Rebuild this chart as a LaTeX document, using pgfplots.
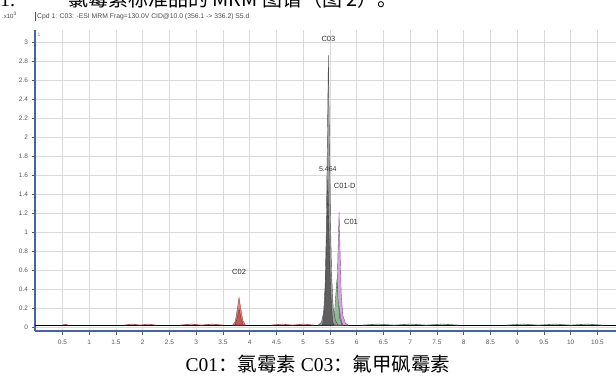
\documentclass[border=0pt]{standalone}
\usepackage{fontspec}
\setmainfont{Liberation Serif}
\setsansfont{Liberation Sans}
\newfontfamily\cjk{Noto Sans CJK SC}
\usepackage{pgfplots}
\pgfplotsset{compat=1.18}
\definecolor{axblue}{RGB}{70,100,170}
\definecolor{pkgray}{RGB}{150,150,150}
\definecolor{pkdark}{RGB}{80,80,80}
\definecolor{pkpurple}{RGB}{205,150,220}
\definecolor{pkgreen}{RGB}{140,190,140}
\definecolor{pkred}{RGB}{225,90,90}
\begin{document}
\begin{tikzpicture}[x=1pt,y=1pt]
\useasboundingbox (0,0) rectangle (616,376);
% heading line above the figure, cut off at the top edge as in the source
\node[anchor=base west, inner sep=0pt, font=\fontsize{20}{20}\selectfont] at (0,370) {1.};
\node[anchor=base west, inner sep=0pt, font=\cjk\fontsize{20}{20}\selectfont] at (68,370) {氯霉素标准品的 MRM 图谱（图 2）。};
% header
\node[anchor=base west, inner sep=0pt, font=\sffamily\fontsize{6}{6}\selectfont, text=gray!60!black] at (2,358) {.x10\textsuperscript{3}};
\draw[gray!60!black, line width=0.5pt] (35.5,355) -- (35.5,364);
\node[anchor=base west, inner sep=0pt, font=\sffamily\fontsize{6.8}{6.8}\selectfont, text=gray!60!black] at (37,358) {Cpd 1: C03: -ESI MRM Frag=130.0V CID@10.0 (356.1 -> 336.2) S5.d};
\begin{axis}[
  at={(35pt,45pt)}, anchor=south west, scale only axis,
  width=581pt, height=301pt,
  xmin=-0.014, xmax=10.846, ymin=-0.042, ymax=3.126,
  axis x line*=bottom, axis y line*=left,
  axis line style={draw=axblue, line width=1.4pt, -},
  xtick={0.5,1,1.5,2,2.5,3,3.5,4,4.5,5,5.5,6,6.5,7,7.5,8,8.5,9,9.5,10,10.5},
  ytick={0,0.2,0.4,0.6,0.8,1,1.2,1.4,1.6,1.8,2,2.2,2.4,2.6,2.8,3},
  yticklabels={0,0.2,0.4,0.6,0.8,1,1.2,1.4,1.6,1.8,2,2.2,2.4,2.6,2.8,3},
  xticklabels={0.5,1,1.5,2,2.5,3,3.5,4,4.5,5,5.5,6,6.5,7,7.5,8,8.5,9,9.5,10,10.5},
  tick align=outside, major tick length=3.5pt,
  tick style={gray!70!black, line width=0.5pt},
  tick label style={font=\sffamily\fontsize{6.5}{6.5}\selectfont, text=gray!70!black},
  xticklabel style={yshift=-2pt},
  grid=major, grid style={gray!30, line width=0.6pt},
  clip=true,
]
% baseline
\addplot[black, line width=0.7pt] coordinates {(-0.01,0.02) (10.85,0.02)};
% small baseline noise
\addplot[pkred!70!black, line width=0.6pt] coordinates {(0.5,0.02) (0.55,0.03) (0.6,0.02)};
\addplot[pkred!70!black, line width=0.6pt] coordinates {(1.65,0.02) (1.8,0.03) (1.95,0.02) (2.1,0.03) (2.25,0.02)};
\addplot[pkred!70!black, line width=0.6pt] coordinates {(2.7,0.02) (2.9,0.03) (3.1,0.02) (3.3,0.03) (3.5,0.02)};
\addplot[pkred!70!black, line width=0.6pt] coordinates {(4.4,0.02) (4.6,0.03) (4.8,0.02) (5.0,0.03) (5.2,0.02)};
\addplot[pkgreen!60!black, line width=0.6pt] coordinates {(6.1,0.02) (6.4,0.03) (6.7,0.02) (7.0,0.03) (7.3,0.02) (7.6,0.03) (7.9,0.02)};
\addplot[pkgreen!60!black, line width=0.6pt] coordinates {(8.8,0.02) (9.1,0.03) (9.4,0.02) (9.7,0.03) (10.0,0.02) (10.3,0.03) (10.6,0.02)};
% C02 red
\addplot[draw=pkred!70!black, fill=pkred, fill opacity=0.75, line width=0.4pt] coordinates {(3.68,0.02) (3.73,0.06) (3.77,0.2) (3.80,0.31) (3.83,0.2) (3.87,0.07) (3.92,0.02)} -- cycle;
\addplot[draw=pkred!50!black, fill=pkred!70!black, fill opacity=0.6, line width=0.3pt] coordinates {(3.72,0.02) (3.76,0.08) (3.80,0.19) (3.84,0.08) (3.88,0.02)} -- cycle;
% C01 purple
\addplot[draw=pkpurple!60!black, fill=pkpurple, fill opacity=0.85, line width=0.4pt] coordinates {(5.56,0.02) (5.60,0.08) (5.63,0.35) (5.65,0.8) (5.67,1.21) (5.69,0.75) (5.71,0.35) (5.74,0.12) (5.79,0.04) (5.84,0.02)} -- cycle;
\addplot[draw=pkpurple!50!black, fill=pkpurple!70!black, fill opacity=0.6, line width=0.3pt] coordinates {(5.60,0.02) (5.64,0.08) (5.67,0.22) (5.70,0.09) (5.74,0.02)} -- cycle;
% green
\addplot[draw=pkgreen!50!black, fill=pkgreen, fill opacity=0.85, line width=0.4pt] coordinates {(5.55,0.02) (5.58,0.1) (5.61,0.35) (5.63,0.5) (5.65,0.3) (5.68,0.1) (5.72,0.02)} -- cycle;
% C03 gray
\addplot[draw=pkdark, fill=pkgray, fill opacity=0.9, line width=0.4pt] coordinates {(5.28,0.02) (5.34,0.05) (5.38,0.15) (5.41,0.45) (5.43,1.0) (5.45,1.9) (5.47,2.86) (5.49,2.0) (5.51,1.1) (5.53,0.55) (5.56,0.2) (5.60,0.07) (5.65,0.02)} -- cycle;
\addplot[draw=black!80, fill=pkdark, fill opacity=0.8, line width=0.3pt] coordinates {(5.36,0.02) (5.40,0.2) (5.43,0.7) (5.46,1.55) (5.48,1.0) (5.51,0.4) (5.55,0.05) (5.58,0.02)} -- cycle;
% labels
\node[font=\sffamily\fontsize{7.5}{7.5}\selectfont, text=black!80] at (axis cs:5.47,3.03) {C03};
\node[font=\sffamily\fontsize{7}{7}\selectfont, text=black!80] at (axis cs:5.46,1.66) {5.464};
\node[anchor=west, inner sep=0pt, font=\sffamily\fontsize{7.5}{7.5}\selectfont, text=black!80] at (axis cs:5.57,1.49) {C01-D};
\node[anchor=west, inner sep=0pt, font=\sffamily\fontsize{7.5}{7.5}\selectfont, text=black!80] at (axis cs:5.76,1.11) {C01};
\node[font=\sffamily\fontsize{7.5}{7.5}\selectfont, text=black!80] at (axis cs:3.80,0.58) {C02};
\node[font=\sffamily\fontsize{5}{5}\selectfont, text=gray] at (axis cs:0.06,3.08) {1};
\end{axis}
% caption
\node[anchor=base, inner sep=0pt, font=\fontsize{19.5}{19.5}\selectfont] at (318,5) {C01{\cjk：氯霉素} C03{\cjk：氟甲砜霉素}};
\end{tikzpicture}
\end{document}
